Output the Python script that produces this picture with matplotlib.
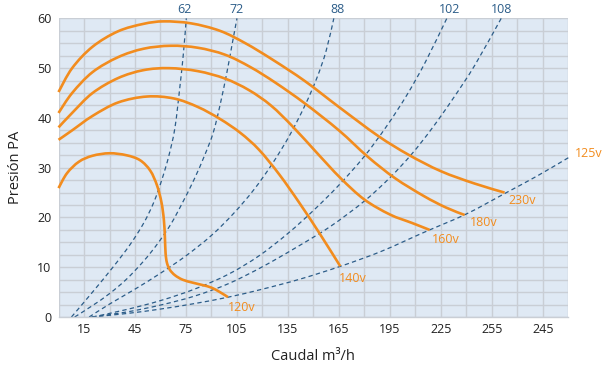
import matplotlib
matplotlib.use("Agg")
import matplotlib.pyplot as plt
from matplotlib.ticker import MultipleLocator, FixedLocator
from matplotlib.path import Path
from matplotlib.patches import PathPatch

plt.rcParams['font.family'] = ['Open Sans', 'DejaVu Sans']

# ---- data ----
x_ticks = [15, 45, 75, 105, 135, 165, 195, 225, 255, 285]
x_tick_labels = ["15", "45", "75", "105", "135", "165", "195", "225", "255", "245"]
y_ticks = [0, 10, 20, 30, 40, 50, 60]

# fan curves (Caudal, Presion)
c230_x = [0, 8, 20, 35, 50, 62, 78, 95, 110, 126, 145, 165, 188, 206, 225, 245, 262.5]
c230_y = [45.2, 50.0, 54.3, 57.4, 58.9, 59.4, 59.0, 57.5, 55.0, 51.7, 47.4, 42.2, 36.4, 32.6, 29.3, 26.8, 25.0]

c180_x = [0, 8, 20, 35, 50, 66, 82, 98, 113, 128, 145, 165, 182, 198, 215, 228, 239]
c180_y = [41.0, 45.0, 49.2, 52.2, 53.9, 54.5, 54.1, 52.7, 50.2, 47.0, 42.9, 37.5, 32.2, 27.9, 24.3, 22.0, 20.5]

c160_x = [0, 8, 20, 35, 50, 65, 82, 98, 112, 125, 138, 152, 166, 180, 195, 208, 218.4]
c160_y = [38.1, 41.0, 45.0, 48.0, 49.6, 50.0, 49.4, 47.9, 45.6, 42.5, 38.2, 33.0, 27.9, 23.6, 20.6, 18.9, 17.5]

c140_x = [0, 8, 20, 35, 52, 68, 82, 95, 107, 118, 130, 142, 154, 165.8]
c140_y = [35.6, 37.5, 40.4, 43.1, 44.3, 43.9, 42.2, 39.8, 37.0, 33.6, 28.6, 22.8, 16.6, 10.2]

c120_x = [0, 5, 12, 20, 30, 40, 48, 54, 58, 60.6, 62.0, 62.6, 63.0, 63.8, 65.5, 68.5, 73, 79, 85, 90, 95, 99.7]
c120_y = [25.9, 28.9, 31.2, 32.4, 32.9, 32.5, 31.5, 29.4, 26.4, 23.0, 19.5, 16.0, 12.8, 10.9, 9.5, 8.4, 7.5, 6.9, 6.4, 5.9, 5.0, 4.0]

fan_labels = ["230v", "180v", "160v", "140v", "120v"]
fan_label_x = [265, 242.3, 219.9, 164.8, 99.4]
fan_label_y = [23.4, 19.0, 15.5, 7.8, 1.9]

# system curves (dashed)
s62_x = [7.6, 20, 32, 42, 50, 56, 61, 65, 68.5, 71.5, 73.5, 75.2]
s62_y = [0, 5.0, 10.0, 14.5, 18.8, 23.0, 27.8, 32.5, 38.0, 46.5, 53.0, 60.0]

s72_x = [9.5, 20, 30, 40, 50, 58, 66, 73, 80, 86, 91, 95, 99, 102, 105]
s72_y = [0, 2.3, 4.7, 7.6, 11.2, 14.6, 18.6, 23.0, 27.8, 32.5, 37.0, 42.5, 49.0, 54.5, 60.0]

s88_x = [18, 30, 45, 60, 75, 90, 103, 115, 126, 136, 145, 152, 157.5, 162]
s88_y = [0, 2.6, 5.6, 8.8, 12.3, 16.4, 20.8, 25.6, 30.9, 36.5, 42.5, 48.0, 53.5, 60.0]

s102_x = [20, 40, 60, 80, 100, 118, 135, 150, 165, 180, 193, 205, 216, 228.5]
s102_y = [0, 1.5, 3.3, 5.6, 8.6, 12.3, 16.8, 21.4, 26.5, 32.3, 38.3, 44.6, 51.3, 60.0]

s108_x = [19.4, 40, 60, 80, 100, 120, 140, 160, 180, 195, 208, 220, 232, 245, 260.5]
s108_y = [0, 1.0, 2.4, 4.2, 6.7, 10.1, 14.0, 18.2, 23.3, 28.0, 32.8, 38.0, 43.8, 50.6, 60.0]

s125_x = [19.4, 40, 60, 80, 100, 120, 142, 166, 190, 215, 240, 262.5, 282, 300]
s125_y = [0, 0.7, 1.6, 2.7, 4.0, 5.6, 7.6, 10.2, 13.2, 17.0, 20.7, 24.8, 28.4, 32.0]

sys_labels = ["62", "72", "88", "102", "108"]
sys_label_x = [74.2, 104.6, 164.4, 230.1, 260.5]
sys_label_y = [61.8, 61.8, 61.8, 61.8, 61.8]
s125_label = "125v"
s125_label_x = 303.6
s125_label_y = 32.9

# ---- styling ----
ORANGE = "#f28c1e"
BLUE = "#2c5d89"
BG = "#dfe9f4"
GRID = "#c9ced5"
TXT = "#222222"


def smooth_path(xs, ys):
    """Path through the read points, drawn as Catmull-Rom Bezier segments."""
    pts = list(zip(xs, ys))
    n = len(pts)
    verts = [pts[0]]
    codes = [Path.MOVETO]
    for i in range(n - 1):
        p0 = pts[i - 1] if i > 0 else pts[i]
        p1 = pts[i]
        p2 = pts[i + 1]
        p3 = pts[i + 2] if i + 2 < n else pts[i + 1]
        c1 = (p1[0] + (p2[0] - p0[0]) / 6.0, p1[1] + (p2[1] - p0[1]) / 6.0)
        c2 = (p2[0] - (p3[0] - p1[0]) / 6.0, p2[1] - (p3[1] - p1[1]) / 6.0)
        verts += [c1, c2, p2]
        codes += [Path.CURVE4, Path.CURVE4, Path.CURVE4]
    return Path(verts, codes)


fig = plt.figure(figsize=(6.04, 3.67), dpi=100)
ax = fig.add_axes([0.0969, 0.1362, 0.8440, 0.8137])
ax.set_facecolor(BG)
ax.set_xlim(0, 300)
ax.set_ylim(0, 60)

ax.xaxis.set_major_locator(FixedLocator(x_ticks))
ax.set_xticklabels(x_tick_labels)
ax.xaxis.set_minor_locator(MultipleLocator(15))
ax.yaxis.set_major_locator(FixedLocator(y_ticks))
ax.yaxis.set_minor_locator(MultipleLocator(2.5))
ax.grid(True, which='both', color=GRID, linewidth=1.0)
ax.set_axisbelow(True)
ax.tick_params(which='both', length=0)
ax.tick_params(axis='x', pad=4.5, labelsize=9, labelcolor=TXT)
ax.tick_params(axis='y', pad=5, labelsize=9, labelcolor=TXT)
for side in ['top', 'right', 'left']:
    ax.spines[side].set_visible(False)
ax.spines['bottom'].set_color(GRID)
ax.spines['bottom'].set_linewidth(1.0)

for sx, sy in [(s62_x, s62_y), (s72_x, s72_y), (s88_x, s88_y),
               (s102_x, s102_y), (s108_x, s108_y), (s125_x, s125_y)]:
    ax.add_patch(PathPatch(smooth_path(sx, sy), fill=False, edgecolor=BLUE,
                           linewidth=0.9, linestyle=(0, (3.5, 2.6)),
                           clip_on=False, zorder=2))

for cx, cy in [(c230_x, c230_y), (c180_x, c180_y), (c160_x, c160_y),
               (c140_x, c140_y), (c120_x, c120_y)]:
    ax.add_patch(PathPatch(smooth_path(cx, cy), fill=False, edgecolor=ORANGE,
                           linewidth=1.9, joinstyle='round', capstyle='butt',
                           clip_on=False, zorder=3))

for t, lx, ly in zip(fan_labels, fan_label_x, fan_label_y):
    ax.text(lx, ly, t, color=ORANGE, fontsize=9, ha='left', va='center')

for t, lx, ly in zip(sys_labels, sys_label_x, sys_label_y):
    ax.text(lx, ly, t, color=BLUE, fontsize=9, ha='center', va='center', clip_on=False)
ax.text(s125_label_x, s125_label_y, s125_label, color=ORANGE, fontsize=9,
        ha='left', va='center', clip_on=False)

ax.set_xlabel("Caudal m³/h", fontsize=10.5, color=TXT, labelpad=9)
ax.set_ylabel("Presión PA", fontsize=10.5, color=TXT, labelpad=10)

fig.savefig("out.png", dpi=100)
